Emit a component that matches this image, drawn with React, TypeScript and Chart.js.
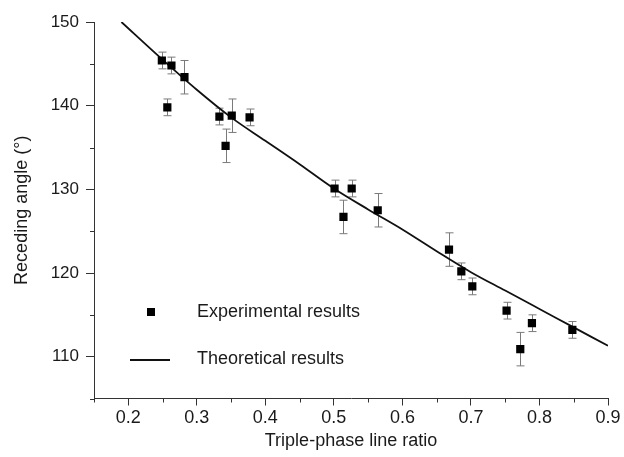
import { useEffect, useRef } from "react";
import { Chart, registerables } from "chart.js";

Chart.register(...registerables);

// Experimental results (triple-phase line ratio, receding angle, error)
const expX = [0.249, 0.263, 0.282, 0.257, 0.333, 0.351, 0.377, 0.342, 0.501, 0.526, 0.514, 0.564, 0.668, 0.686, 0.702, 0.752, 0.789, 0.772, 0.848];
const expY = [145.4, 144.8, 143.4, 139.8, 138.7, 138.8, 138.6, 135.2, 130.1, 130.1, 126.7, 127.5, 122.8, 120.2, 118.4, 115.5, 114.0, 110.9, 113.2];
const expErr = [1, 1, 2, 1, 1, 2, 1, 2, 1, 1, 2, 2, 2, 1, 1, 1, 1, 2, 1];

// Theoretical curve
const theoX = [0.19, 0.25, 0.3, 0.35, 0.4, 0.45, 0.5, 0.55, 0.6, 0.65, 0.7, 0.75, 0.8, 0.85, 0.9];
const theoY = [150, 145.5, 141.9, 138.6, 135.8, 133.0, 130.1, 127.6, 125.2, 122.6, 120.1, 117.9, 115.7, 113.5, 111.3];

// Axis ticks
const xMajor = [0.2, 0.3, 0.4, 0.5, 0.6, 0.7, 0.8, 0.9];
const xMinor = [0.15, 0.25, 0.35, 0.45, 0.55, 0.65, 0.75, 0.85];
const yMajor = [110, 120, 130, 140, 150];
const yMinor = [105, 115, 125, 135, 145];

const legendLabels = ["Experimental results", "Theoretical results"];

const FONT = "'Liberation Sans', Arial, sans-serif";
const TEXT = "#1a1a1a";
const AXIS = "#333333";

export default function App() {
  const ref = useRef<HTMLCanvasElement | null>(null);

  useEffect(() => {
    document.body.style.margin = "0";
    const canvas = ref.current;
    if (!canvas) return;

    const errorBars = {
      id: "errorBars",
      beforeDatasetsDraw(chart: any) {
        const { ctx, scales } = chart;
        const xs = scales.x;
        const ys = scales.y;
        ctx.save();
        ctx.strokeStyle = "#7a7a7a";
        ctx.lineWidth = 1;
        expX.forEach((xv, i) => {
          const px = Math.round(xs.getPixelForValue(xv)) + 0.5;
          const top = ys.getPixelForValue(expY[i] + expErr[i]);
          const bot = ys.getPixelForValue(expY[i] - expErr[i]);
          ctx.beginPath();
          ctx.moveTo(px, top);
          ctx.lineTo(px, bot);
          ctx.moveTo(px - 4, top);
          ctx.lineTo(px + 4, top);
          ctx.moveTo(px - 4, bot);
          ctx.lineTo(px + 4, bot);
          ctx.stroke();
        });
        ctx.restore();
      },
    };

    const minorTicks = {
      id: "minorTicks",
      afterDraw(chart: any) {
        const { ctx, scales, chartArea } = chart;
        ctx.save();
        ctx.strokeStyle = AXIS;
        ctx.lineWidth = 1;
        ctx.beginPath();
        xMinor.forEach((v) => {
          const px = Math.round(scales.x.getPixelForValue(v)) + 0.5;
          ctx.moveTo(px, chartArea.bottom);
          ctx.lineTo(px, chartArea.bottom + 4);
        });
        yMinor.forEach((v) => {
          const py = Math.round(scales.y.getPixelForValue(v)) + 0.5;
          ctx.moveTo(chartArea.left, py);
          ctx.lineTo(chartArea.left - 4, py);
        });
        ctx.stroke();
        ctx.restore();
      },
    };

    const legend = {
      id: "innerLegend",
      afterDraw(chart: any) {
        const { ctx } = chart;
        ctx.save();
        ctx.fillStyle = "#000";
        ctx.fillRect(147, 308, 8, 8);
        ctx.strokeStyle = "#111";
        ctx.lineWidth = 2;
        ctx.beginPath();
        ctx.moveTo(130, 360);
        ctx.lineTo(170, 360);
        ctx.stroke();
        ctx.fillStyle = TEXT;
        ctx.font = `18px ${FONT}`;
        ctx.textBaseline = "middle";
        ctx.textAlign = "left";
        ctx.fillText(legendLabels[0], 197, 312);
        ctx.fillText(legendLabels[1], 197, 359);
        ctx.restore();
      },
    };

    const chart = new Chart(canvas, {
      type: "scatter",
      data: {
        datasets: [
          {
            label: legendLabels[0],
            data: expX.map((x, i) => ({ x, y: expY[i] })),
            pointStyle: "rect",
            pointRadius: 5.8,
            pointBackgroundColor: "#000",
            pointBorderColor: "#000",
            pointBorderWidth: 0,
            showLine: false,
            order: 0,
          },
          {
            label: legendLabels[1],
            data: theoX.map((x, i) => ({ x, y: theoY[i] })),
            showLine: true,
            borderColor: "#111",
            borderWidth: 1.8,
            pointRadius: 0,
            cubicInterpolationMode: "monotone",
            order: 1,
          },
        ],
      },
      options: {
        responsive: false,
        animation: false,
        events: [],
        layout: { padding: { left: 0, top: 22, right: 16, bottom: 0 } },
        plugins: {
          legend: { display: false },
          tooltip: { enabled: false },
        },
        scales: {
          x: {
            type: "linear",
            min: 0.15,
            max: 0.9,
            afterBuildTicks: (scale: any) => {
              scale.ticks = xMajor.map((v) => ({ value: v }));
            },
            afterFit: (scale: any) => {
              scale.height = 58.5;
            },
            ticks: {
              color: TEXT,
              font: { family: FONT, size: 18 },
              padding: 2,
              maxRotation: 0,
              autoSkip: false,
              callback: (v: any) => Number(v).toFixed(1),
            },
            grid: { drawOnChartArea: false, color: AXIS, tickLength: 7, lineWidth: 1 },
            border: { color: AXIS, width: 1 },
            title: {
              display: true,
              text: "Triple-phase line ratio",
              color: TEXT,
              font: { family: FONT, size: 18 },
              padding: { top: 0, bottom: 5 },
            },
          },
          y: {
            type: "linear",
            min: 105,
            max: 150,
            afterBuildTicks: (scale: any) => {
              scale.ticks = yMajor.map((v) => ({ value: v }));
            },
            afterFit: (scale: any) => {
              scale.width = 94;
            },
            ticks: {
              color: TEXT,
              font: { family: FONT, size: 17 },
              padding: 7,
              autoSkip: false,
              callback: (v: any) => String(v),
            },
            grid: { drawOnChartArea: false, color: AXIS, tickLength: 8, lineWidth: 1 },
            border: { color: AXIS, width: 1 },
            title: {
              display: true,
              text: "Receding angle (°)",
              color: TEXT,
              font: { family: FONT, size: 18 },
              padding: { top: 11, bottom: 0 },
            },
          },
        },
      },
      plugins: [errorBars, minorTicks, legend],
    });

    return () => chart.destroy();
  }, []);

  return (
    <div style={{ width: 624, height: 457, background: "#fff" }}>
      <canvas ref={ref} width={624} height={457} />
    </div>
  );
}
